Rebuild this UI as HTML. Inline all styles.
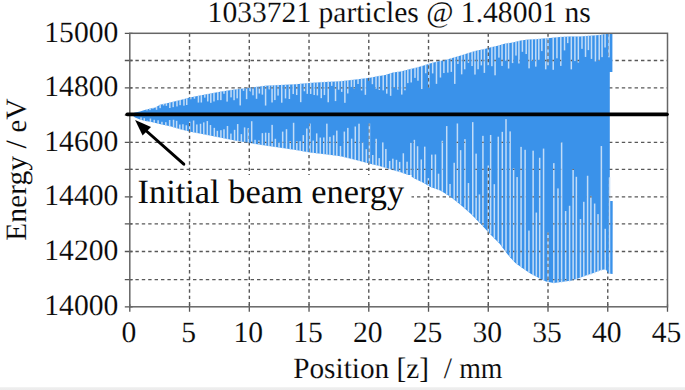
<!DOCTYPE html>
<html><head><meta charset="utf-8"><style>
html,body{margin:0;padding:0;background:#fff;}
body{width:685px;height:390px;overflow:hidden;position:relative;}
svg{position:absolute;left:0;top:0;display:block;}
text{font-family:"Liberation Serif",serif;fill:#0a0a0a;text-rendering:geometricPrecision;stroke:#fff;stroke-width:0.1px;}
</style></head><body>
<svg width="685" height="390" viewBox="0 0 685 390">
<defs><linearGradient id="bg" x1="0" y1="0" x2="0" y2="1"><stop offset="0" stop-color="#f6f6f6"/><stop offset="0.35" stop-color="#eeeeee"/><stop offset="1" stop-color="#ececec"/></linearGradient></defs>
<rect x="0" y="387" width="685" height="3" fill="url(#bg)"/>
<g stroke="#585858" stroke-width="1.4" stroke-dasharray="3.4 3.0" fill="none"><line x1="189.54" y1="33.30" x2="189.54" y2="306.80"/>
<line x1="249.29" y1="33.30" x2="249.29" y2="306.80"/>
<line x1="309.03" y1="33.30" x2="309.03" y2="306.80"/>
<line x1="368.78" y1="33.30" x2="368.78" y2="306.80"/>
<line x1="428.52" y1="33.30" x2="428.52" y2="306.80"/>
<line x1="488.27" y1="33.30" x2="488.27" y2="306.80"/>
<line x1="548.01" y1="33.30" x2="548.01" y2="306.80"/>
<line x1="607.76" y1="33.30" x2="607.76" y2="306.80"/>
<line x1="129.80" y1="279.60" x2="667.50" y2="279.60" stroke-dashoffset="0.8"/>
<line x1="129.80" y1="251.50" x2="667.50" y2="251.50" stroke-dashoffset="0.8"/>
<line x1="129.80" y1="223.90" x2="667.50" y2="223.90" stroke-dashoffset="0.8"/>
<line x1="129.80" y1="196.90" x2="667.50" y2="196.90" stroke-dashoffset="0.8"/>
<line x1="129.80" y1="169.40" x2="667.50" y2="169.40" stroke-dashoffset="0.8"/>
<line x1="129.80" y1="142.40" x2="667.50" y2="142.40" stroke-dashoffset="0.8"/>
<line x1="129.80" y1="115.20" x2="667.50" y2="115.20" stroke-dashoffset="0.8"/>
<line x1="129.80" y1="87.90" x2="667.50" y2="87.90" stroke-dashoffset="0.8"/>
<line x1="129.80" y1="60.50" x2="667.50" y2="60.50" stroke-dashoffset="0.8"/></g>
<polygon points="132.5,113.4 135.0,112.4 140.0,111.4 145.4,109.8 150.5,108.6 155.6,107.4 160.0,104.8 170.3,102.4 180.5,100.1 190.0,97.6 200.0,95.6 220.0,91.8 235.0,89.5 250.0,87.7 265.4,85.8 280.8,85.1 296.0,84.3 309.0,83.1 325.4,81.9 340.8,81.2 356.0,79.6 370.0,77.7 377.7,76.2 385.4,75.1 393.0,72.6 400.8,71.5 408.5,69.5 416.0,67.7 423.8,65.4 430.0,63.5 437.7,61.5 445.4,60.0 453.0,57.7 460.8,55.4 468.5,53.1 476.0,50.8 483.8,49.2 490.0,47.5 497.7,45.7 505.4,43.4 513.0,42.6 520.8,40.6 528.5,39.5 536.0,39.2 543.8,38.5 550.0,38.0 560.0,37.0 570.0,36.6 580.0,36.4 590.0,35.8 600.0,35.0 607.5,33.6 612.4,33.4 612.4,72.0 609.8,72.0 609.8,201.0 612.7,201.0 612.6,274.0 608.5,273.5 605.8,269.2 601.0,270.0 593.5,273.0 585.8,275.4 578.0,278.5 570.4,280.8 562.7,281.8 553.8,283.0 546.0,281.5 538.5,277.7 530.8,273.8 523.0,268.5 515.4,263.0 507.7,254.6 499.7,243.8 489.5,233.6 481.3,224.4 471.0,214.1 460.8,204.9 450.5,196.7 440.3,190.5 430.0,186.8 423.8,183.1 416.0,179.2 408.5,175.1 400.8,172.3 393.0,170.0 385.4,167.7 377.7,165.4 370.0,163.8 356.0,160.0 340.8,156.2 325.4,154.3 310.0,152.4 296.0,150.0 280.8,147.7 265.4,145.4 250.0,143.1 235.0,140.5 220.0,137.5 205.0,134.5 189.2,131.4 180.5,129.2 170.3,126.3 160.8,124.3 155.6,122.9 150.5,121.8 145.4,121.1 140.0,119.5 135.0,117.5 132.5,115.6" fill="#3a92ea"/>
<g fill="#c2dcf7"><rect x="146.22" y="109.11" width="1.50" height="1.32"/><rect x="149.25" y="108.40" width="1.50" height="1.71"/><rect x="152.16" y="107.71" width="1.50" height="0.99"/><rect x="155.79" y="106.79" width="1.50" height="3.02"/><rect x="159.38" y="104.67" width="1.50" height="3.49"/><rect x="162.81" y="103.65" width="1.50" height="1.82"/><rect x="165.65" y="102.98" width="1.50" height="2.86"/><rect x="169.07" y="102.19" width="1.50" height="5.84"/><rect x="172.42" y="101.42" width="1.50" height="5.73"/><rect x="176.23" y="100.56" width="1.50" height="5.90"/><rect x="179.37" y="99.85" width="1.50" height="5.34"/><rect x="183.19" y="98.89" width="1.50" height="6.77"/><rect x="185.99" y="98.16" width="1.50" height="6.85"/><rect x="189.97" y="97.11" width="1.50" height="2.14"/><rect x="193.70" y="96.36" width="1.50" height="2.31"/><rect x="197.66" y="95.57" width="1.50" height="6.99"/><rect x="200.58" y="94.99" width="1.50" height="7.51"/><rect x="204.05" y="94.33" width="1.50" height="3.31"/><rect x="207.01" y="93.77" width="1.50" height="7.69"/><rect x="210.06" y="93.19" width="1.50" height="9.63"/><rect x="213.23" y="92.59" width="1.50" height="8.89"/><rect x="217.05" y="91.86" width="1.50" height="8.32"/><rect x="220.11" y="91.28" width="1.50" height="8.84"/><rect x="223.26" y="90.80" width="1.50" height="2.99"/><rect x="226.35" y="90.33" width="1.50" height="11.26"/><rect x="230.31" y="89.72" width="1.50" height="7.63"/><rect x="233.32" y="89.26" width="1.50" height="10.95"/><rect x="236.42" y="88.83" width="1.50" height="9.51"/><rect x="239.46" y="88.46" width="1.50" height="16.97"/><rect x="242.77" y="88.07" width="1.50" height="2.79"/><rect x="245.85" y="87.70" width="1.50" height="11.46"/><rect x="249.37" y="87.28" width="1.50" height="4.28"/><rect x="252.25" y="86.92" width="1.50" height="8.37"/><rect x="255.79" y="86.49" width="1.50" height="12.32"/><rect x="258.61" y="86.14" width="1.50" height="7.38"/><rect x="261.62" y="85.77" width="1.50" height="8.87"/><rect x="264.85" y="85.37" width="1.50" height="20.19"/><rect x="268.48" y="85.16" width="1.50" height="4.22"/><rect x="271.30" y="85.03" width="1.50" height="17.44"/><rect x="274.13" y="84.90" width="1.50" height="15.16"/><rect x="277.31" y="84.76" width="1.50" height="10.82"/><rect x="281.00" y="84.59" width="1.50" height="18.11"/><rect x="284.75" y="84.39" width="1.50" height="14.00"/><rect x="288.63" y="84.19" width="1.50" height="14.82"/><rect x="292.47" y="83.99" width="1.50" height="10.06"/><rect x="295.97" y="83.80" width="1.50" height="11.24"/><rect x="299.96" y="83.43" width="1.50" height="18.75"/><rect x="303.64" y="83.09" width="1.50" height="8.13"/><rect x="306.54" y="82.83" width="1.50" height="11.02"/><rect x="309.92" y="82.53" width="1.50" height="11.46"/><rect x="313.45" y="82.27" width="1.50" height="12.75"/><rect x="316.62" y="82.04" width="1.50" height="13.37"/><rect x="320.50" y="81.76" width="1.50" height="16.38"/><rect x="323.69" y="81.52" width="1.50" height="13.54"/><rect x="327.46" y="81.31" width="1.50" height="20.96"/><rect x="330.96" y="81.15" width="1.50" height="4.72"/><rect x="334.77" y="80.97" width="1.50" height="20.12"/><rect x="337.90" y="80.83" width="1.50" height="8.87"/><rect x="340.96" y="80.68" width="1.50" height="11.20"/><rect x="344.13" y="80.35" width="1.50" height="22.45"/><rect x="347.02" y="80.04" width="1.50" height="13.41"/><rect x="350.67" y="79.66" width="1.50" height="7.26"/><rect x="353.50" y="79.36" width="1.50" height="9.32"/><rect x="357.29" y="78.92" width="1.50" height="5.09"/><rect x="360.85" y="78.44" width="1.50" height="12.03"/><rect x="364.62" y="77.93" width="1.50" height="16.89"/><rect x="367.99" y="77.47" width="1.50" height="3.41"/><rect x="371.64" y="76.88" width="1.50" height="7.31"/><rect x="375.28" y="76.17" width="1.50" height="12.58"/><rect x="378.55" y="75.58" width="1.50" height="14.42"/><rect x="382.47" y="75.02" width="1.50" height="15.33"/><rect x="386.02" y="74.40" width="1.50" height="19.28"/><rect x="389.88" y="73.13" width="1.50" height="22.70"/><rect x="393.46" y="72.04" width="1.50" height="15.78"/><rect x="397.03" y="71.53" width="1.50" height="18.07"/><rect x="401.01" y="70.95" width="1.50" height="23.63"/><rect x="404.19" y="70.12" width="1.50" height="20.17"/><rect x="407.09" y="69.37" width="1.50" height="13.73"/><rect x="410.47" y="68.53" width="1.50" height="13.91"/><rect x="414.23" y="67.62" width="1.50" height="10.27"/><rect x="417.20" y="66.85" width="1.50" height="13.88"/><rect x="421.01" y="65.72" width="1.50" height="23.34"/><rect x="424.95" y="64.55" width="1.50" height="8.69"/><rect x="428.10" y="63.58" width="1.50" height="24.00"/><rect x="431.91" y="62.50" width="1.50" height="10.92"/><rect x="435.72" y="61.51" width="1.50" height="22.33"/><rect x="439.69" y="60.61" width="1.50" height="16.92"/><rect x="443.13" y="59.94" width="1.50" height="13.11"/><rect x="447.09" y="58.99" width="1.50" height="13.64"/><rect x="450.57" y="57.94" width="1.50" height="13.95"/><rect x="454.01" y="56.90" width="1.50" height="27.00"/><rect x="457.14" y="55.98" width="1.50" height="7.96"/><rect x="460.92" y="54.87" width="1.50" height="19.48"/><rect x="463.95" y="53.96" width="1.50" height="15.35"/><rect x="467.68" y="52.84" width="1.50" height="10.04"/><rect x="471.31" y="51.74" width="1.50" height="14.29"/><rect x="474.23" y="50.84" width="1.50" height="23.73"/><rect x="477.33" y="50.03" width="1.50" height="19.23"/><rect x="480.58" y="49.36" width="1.50" height="16.01"/><rect x="483.63" y="48.74" width="1.50" height="24.15"/><rect x="487.45" y="47.70" width="1.50" height="17.62"/><rect x="491.14" y="46.73" width="1.50" height="19.45"/><rect x="494.32" y="45.99" width="1.50" height="29.32"/><rect x="498.18" y="45.06" width="1.50" height="12.57"/><rect x="501.29" y="44.13" width="1.50" height="21.78"/><rect x="505.04" y="43.01" width="1.50" height="17.67"/><rect x="507.86" y="42.64" width="1.50" height="25.89"/><rect x="511.82" y="42.22" width="1.50" height="20.87"/><rect x="515.23" y="41.53" width="1.50" height="14.05"/><rect x="518.16" y="40.78" width="1.50" height="22.67"/><rect x="521.64" y="39.98" width="1.50" height="11.83"/><rect x="525.45" y="39.44" width="1.50" height="14.60"/><rect x="528.32" y="39.03" width="1.50" height="29.32"/><rect x="531.51" y="38.88" width="1.50" height="21.96"/><rect x="535.03" y="38.74" width="1.50" height="27.89"/><rect x="538.05" y="38.52" width="1.50" height="21.42"/><rect x="541.09" y="38.24" width="1.50" height="12.84"/><rect x="544.96" y="37.91" width="1.50" height="31.44"/><rect x="552.49" y="37.25" width="1.50" height="32.55"/><rect x="556.19" y="36.88" width="1.50" height="21.42"/><rect x="560.06" y="36.50" width="1.50" height="29.38"/><rect x="563.78" y="36.35" width="1.50" height="14.05"/><rect x="566.99" y="36.22" width="1.50" height="6.89"/><rect x="570.56" y="36.09" width="1.50" height="33.28"/><rect x="574.16" y="36.02" width="1.50" height="25.03"/><rect x="577.59" y="35.95" width="1.50" height="26.63"/><rect x="581.24" y="35.83" width="1.50" height="13.00"/><rect x="584.77" y="35.61" width="1.50" height="21.33"/><rect x="587.64" y="35.44" width="1.50" height="14.67"/><rect x="590.74" y="35.24" width="1.50" height="23.67"/><rect x="594.70" y="34.92" width="1.50" height="26.54"/><rect x="598.47" y="34.62" width="1.50" height="26.08"/><rect x="601.32" y="34.25" width="1.50" height="22.88"/><rect x="604.33" y="33.69" width="1.50" height="13.79"/><rect x="608.26" y="33.07" width="1.50" height="24.25"/><rect x="140.26" y="117.37" width="1.50" height="2.70"/><rect x="143.51" y="118.23" width="1.50" height="2.81"/><rect x="146.52" y="120.65" width="1.50" height="1.10"/><rect x="149.67" y="118.53" width="1.50" height="3.66"/><rect x="153.47" y="119.80" width="1.50" height="3.14"/><rect x="157.36" y="120.27" width="1.50" height="3.61"/><rect x="161.18" y="121.80" width="1.50" height="3.08"/><rect x="165.05" y="122.18" width="1.50" height="3.52"/><rect x="168.90" y="120.02" width="1.50" height="6.49"/><rect x="172.78" y="119.75" width="1.50" height="7.76"/><rect x="175.88" y="120.82" width="1.50" height="7.57"/><rect x="179.07" y="124.54" width="1.50" height="4.75"/><rect x="182.18" y="124.25" width="1.50" height="5.88"/><rect x="185.59" y="125.31" width="1.50" height="5.67"/><rect x="188.97" y="121.67" width="1.50" height="10.17"/><rect x="192.86" y="120.49" width="1.50" height="12.13"/><rect x="196.08" y="124.45" width="1.50" height="8.80"/><rect x="199.78" y="123.77" width="1.50" height="10.20"/><rect x="203.03" y="122.39" width="1.50" height="12.22"/><rect x="206.56" y="121.06" width="1.50" height="14.25"/><rect x="209.73" y="125.04" width="1.50" height="10.91"/><rect x="213.56" y="127.85" width="1.50" height="8.86"/><rect x="216.61" y="130.81" width="1.50" height="6.51"/><rect x="220.17" y="130.20" width="1.50" height="7.83"/><rect x="223.24" y="129.27" width="1.50" height="9.37"/><rect x="226.73" y="125.98" width="1.50" height="13.36"/><rect x="230.16" y="133.59" width="1.50" height="6.44"/><rect x="233.83" y="129.83" width="1.50" height="10.93"/><rect x="236.94" y="124.07" width="1.50" height="17.27"/><rect x="240.63" y="134.12" width="1.50" height="7.85"/><rect x="243.86" y="127.41" width="1.50" height="15.12"/><rect x="247.45" y="128.20" width="1.50" height="14.96"/><rect x="250.95" y="121.22" width="1.50" height="22.52"/><rect x="254.33" y="139.79" width="1.50" height="4.46"/><rect x="258.12" y="140.45" width="1.50" height="4.36"/><rect x="261.63" y="133.14" width="1.50" height="12.20"/><rect x="264.90" y="132.68" width="1.50" height="13.15"/><rect x="268.09" y="132.87" width="1.50" height="13.43"/><rect x="271.36" y="124.86" width="1.50" height="21.93"/><rect x="274.62" y="138.80" width="1.50" height="8.48"/><rect x="278.27" y="142.57" width="1.50" height="5.26"/><rect x="281.91" y="131.61" width="1.50" height="16.76"/><rect x="285.75" y="129.19" width="1.50" height="19.76"/><rect x="289.48" y="141.04" width="1.50" height="8.47"/><rect x="292.84" y="122.78" width="1.50" height="27.24"/><rect x="296.06" y="141.07" width="1.50" height="9.44"/><rect x="299.39" y="141.15" width="1.50" height="9.93"/><rect x="302.56" y="135.11" width="1.50" height="16.52"/><rect x="306.05" y="128.52" width="1.50" height="23.71"/><rect x="309.21" y="123.54" width="1.50" height="29.22"/><rect x="312.46" y="140.58" width="1.50" height="12.62"/><rect x="315.95" y="133.38" width="1.50" height="20.26"/><rect x="319.54" y="137.55" width="1.50" height="16.53"/><rect x="323.03" y="137.45" width="1.50" height="17.05"/><rect x="326.10" y="123.66" width="1.50" height="31.22"/><rect x="329.18" y="136.84" width="1.50" height="18.42"/><rect x="332.85" y="135.30" width="1.50" height="20.42"/><rect x="336.05" y="130.60" width="1.50" height="25.52"/><rect x="339.74" y="146.02" width="1.50" height="10.55"/><rect x="343.61" y="131.58" width="1.50" height="25.82"/><rect x="347.09" y="127.90" width="1.50" height="30.38"/><rect x="350.92" y="138.66" width="1.50" height="20.57"/><rect x="354.52" y="126.51" width="1.50" height="33.62"/><rect x="358.27" y="123.71" width="1.50" height="37.41"/><rect x="361.84" y="142.54" width="1.50" height="19.54"/><rect x="365.56" y="149.18" width="1.50" height="13.92"/><rect x="368.70" y="123.48" width="1.50" height="40.47"/><rect x="372.03" y="155.00" width="1.50" height="9.72"/><rect x="375.42" y="138.79" width="1.50" height="26.64"/><rect x="378.47" y="158.13" width="1.50" height="8.00"/><rect x="382.05" y="142.42" width="1.50" height="24.78"/><rect x="385.11" y="148.96" width="1.50" height="19.15"/><rect x="388.93" y="160.94" width="1.50" height="8.33"/><rect x="392.09" y="158.70" width="1.50" height="11.52"/><rect x="395.74" y="159.84" width="1.50" height="11.46"/><rect x="398.90" y="161.88" width="1.50" height="10.37"/><rect x="402.59" y="153.27" width="1.50" height="20.18"/><rect x="406.32" y="161.69" width="1.50" height="13.12"/><rect x="410.12" y="142.87" width="1.50" height="33.62"/><rect x="413.61" y="139.82" width="1.50" height="38.58"/><rect x="416.81" y="146.23" width="1.50" height="33.88"/><rect x="420.53" y="159.44" width="1.50" height="22.52"/><rect x="424.00" y="146.65" width="1.50" height="37.07"/><rect x="427.59" y="178.11" width="1.50" height="7.75"/><rect x="431.01" y="154.62" width="1.50" height="33.04"/><rect x="434.66" y="154.45" width="1.50" height="34.52"/><rect x="437.80" y="173.69" width="1.50" height="16.41"/><rect x="441.58" y="140.76" width="1.50" height="51.02"/><rect x="445.97" y="126.08" width="1.50" height="68.37"/><rect x="449.27" y="183.95" width="1.50" height="12.50"/><rect x="453.44" y="162.78" width="1.50" height="36.76"/><rect x="456.64" y="123.48" width="1.50" height="78.61"/><rect x="459.87" y="150.15" width="1.50" height="54.51"/><rect x="464.21" y="139.14" width="1.50" height="69.34"/><rect x="467.71" y="183.04" width="1.50" height="28.59"/><rect x="472.00" y="122.13" width="1.50" height="93.47"/><rect x="475.37" y="153.63" width="1.50" height="65.34"/><rect x="478.67" y="194.43" width="1.50" height="27.84"/><rect x="482.18" y="135.82" width="1.50" height="90.06"/><rect x="489.88" y="134.96" width="1.50" height="99.51"/><rect x="493.58" y="184.18" width="1.50" height="54.00"/><rect x="497.53" y="136.68" width="1.50" height="105.45"/><rect x="501.55" y="131.84" width="1.50" height="114.95"/><rect x="505.25" y="119.16" width="1.50" height="132.63"/><rect x="509.39" y="131.39" width="1.50" height="125.55"/><rect x="512.86" y="168.21" width="1.50" height="92.53"/><rect x="516.35" y="177.07" width="1.50" height="87.12"/><rect x="520.32" y="146.88" width="1.50" height="120.18"/><rect x="524.37" y="149.79" width="1.50" height="120.14"/><rect x="528.20" y="230.57" width="1.50" height="41.96"/><rect x="532.38" y="150.67" width="1.50" height="124.43"/><rect x="535.60" y="212.55" width="1.50" height="64.18"/><rect x="538.93" y="157.77" width="1.50" height="120.64"/><rect x="542.80" y="148.59" width="1.50" height="131.79"/><rect x="553.07" y="163.13" width="1.50" height="120.23"/><rect x="557.23" y="188.39" width="1.50" height="94.65"/><rect x="560.87" y="142.38" width="1.50" height="140.17"/><rect x="564.88" y="211.03" width="1.50" height="70.99"/><rect x="568.84" y="205.77" width="1.50" height="75.73"/><rect x="572.37" y="169.05" width="1.50" height="111.65"/><rect x="575.61" y="176.80" width="1.50" height="102.92"/><rect x="579.73" y="218.98" width="1.50" height="59.33"/><rect x="583.04" y="201.79" width="1.50" height="75.21"/><rect x="586.85" y="175.75" width="1.50" height="99.82"/><rect x="590.13" y="195.86" width="1.50" height="78.69"/><rect x="593.90" y="203.54" width="1.50" height="69.80"/><rect x="597.26" y="214.12" width="1.50" height="57.88"/><rect x="600.62" y="146.03" width="1.50" height="124.63"/><rect x="604.47" y="228.79" width="1.50" height="41.14"/><rect x="608.78" y="177.24" width="1.50" height="96.80"/><rect x="487.52" y="165.50" width="1.50" height="67.22"/><rect x="547.26" y="232.50" width="1.50" height="49.89"/><rect x="547.26" y="37.66" width="1.50" height="27.84"/></g>
<clipPath id="sc"><rect x="146.22" y="109.11" width="1.50" height="1.32"/><rect x="149.25" y="108.40" width="1.50" height="1.71"/><rect x="152.16" y="107.71" width="1.50" height="0.99"/><rect x="155.79" y="106.79" width="1.50" height="3.02"/><rect x="159.38" y="104.67" width="1.50" height="3.49"/><rect x="162.81" y="103.65" width="1.50" height="1.82"/><rect x="165.65" y="102.98" width="1.50" height="2.86"/><rect x="169.07" y="102.19" width="1.50" height="5.84"/><rect x="172.42" y="101.42" width="1.50" height="5.73"/><rect x="176.23" y="100.56" width="1.50" height="5.90"/><rect x="179.37" y="99.85" width="1.50" height="5.34"/><rect x="183.19" y="98.89" width="1.50" height="6.77"/><rect x="185.99" y="98.16" width="1.50" height="6.85"/><rect x="189.97" y="97.11" width="1.50" height="2.14"/><rect x="193.70" y="96.36" width="1.50" height="2.31"/><rect x="197.66" y="95.57" width="1.50" height="6.99"/><rect x="200.58" y="94.99" width="1.50" height="7.51"/><rect x="204.05" y="94.33" width="1.50" height="3.31"/><rect x="207.01" y="93.77" width="1.50" height="7.69"/><rect x="210.06" y="93.19" width="1.50" height="9.63"/><rect x="213.23" y="92.59" width="1.50" height="8.89"/><rect x="217.05" y="91.86" width="1.50" height="8.32"/><rect x="220.11" y="91.28" width="1.50" height="8.84"/><rect x="223.26" y="90.80" width="1.50" height="2.99"/><rect x="226.35" y="90.33" width="1.50" height="11.26"/><rect x="230.31" y="89.72" width="1.50" height="7.63"/><rect x="233.32" y="89.26" width="1.50" height="10.95"/><rect x="236.42" y="88.83" width="1.50" height="9.51"/><rect x="239.46" y="88.46" width="1.50" height="16.97"/><rect x="242.77" y="88.07" width="1.50" height="2.79"/><rect x="245.85" y="87.70" width="1.50" height="11.46"/><rect x="249.37" y="87.28" width="1.50" height="4.28"/><rect x="252.25" y="86.92" width="1.50" height="8.37"/><rect x="255.79" y="86.49" width="1.50" height="12.32"/><rect x="258.61" y="86.14" width="1.50" height="7.38"/><rect x="261.62" y="85.77" width="1.50" height="8.87"/><rect x="264.85" y="85.37" width="1.50" height="20.19"/><rect x="268.48" y="85.16" width="1.50" height="4.22"/><rect x="271.30" y="85.03" width="1.50" height="17.44"/><rect x="274.13" y="84.90" width="1.50" height="15.16"/><rect x="277.31" y="84.76" width="1.50" height="10.82"/><rect x="281.00" y="84.59" width="1.50" height="18.11"/><rect x="284.75" y="84.39" width="1.50" height="14.00"/><rect x="288.63" y="84.19" width="1.50" height="14.82"/><rect x="292.47" y="83.99" width="1.50" height="10.06"/><rect x="295.97" y="83.80" width="1.50" height="11.24"/><rect x="299.96" y="83.43" width="1.50" height="18.75"/><rect x="303.64" y="83.09" width="1.50" height="8.13"/><rect x="306.54" y="82.83" width="1.50" height="11.02"/><rect x="309.92" y="82.53" width="1.50" height="11.46"/><rect x="313.45" y="82.27" width="1.50" height="12.75"/><rect x="316.62" y="82.04" width="1.50" height="13.37"/><rect x="320.50" y="81.76" width="1.50" height="16.38"/><rect x="323.69" y="81.52" width="1.50" height="13.54"/><rect x="327.46" y="81.31" width="1.50" height="20.96"/><rect x="330.96" y="81.15" width="1.50" height="4.72"/><rect x="334.77" y="80.97" width="1.50" height="20.12"/><rect x="337.90" y="80.83" width="1.50" height="8.87"/><rect x="340.96" y="80.68" width="1.50" height="11.20"/><rect x="344.13" y="80.35" width="1.50" height="22.45"/><rect x="347.02" y="80.04" width="1.50" height="13.41"/><rect x="350.67" y="79.66" width="1.50" height="7.26"/><rect x="353.50" y="79.36" width="1.50" height="9.32"/><rect x="357.29" y="78.92" width="1.50" height="5.09"/><rect x="360.85" y="78.44" width="1.50" height="12.03"/><rect x="364.62" y="77.93" width="1.50" height="16.89"/><rect x="367.99" y="77.47" width="1.50" height="3.41"/><rect x="371.64" y="76.88" width="1.50" height="7.31"/><rect x="375.28" y="76.17" width="1.50" height="12.58"/><rect x="378.55" y="75.58" width="1.50" height="14.42"/><rect x="382.47" y="75.02" width="1.50" height="15.33"/><rect x="386.02" y="74.40" width="1.50" height="19.28"/><rect x="389.88" y="73.13" width="1.50" height="22.70"/><rect x="393.46" y="72.04" width="1.50" height="15.78"/><rect x="397.03" y="71.53" width="1.50" height="18.07"/><rect x="401.01" y="70.95" width="1.50" height="23.63"/><rect x="404.19" y="70.12" width="1.50" height="20.17"/><rect x="407.09" y="69.37" width="1.50" height="13.73"/><rect x="410.47" y="68.53" width="1.50" height="13.91"/><rect x="414.23" y="67.62" width="1.50" height="10.27"/><rect x="417.20" y="66.85" width="1.50" height="13.88"/><rect x="421.01" y="65.72" width="1.50" height="23.34"/><rect x="424.95" y="64.55" width="1.50" height="8.69"/><rect x="428.10" y="63.58" width="1.50" height="24.00"/><rect x="431.91" y="62.50" width="1.50" height="10.92"/><rect x="435.72" y="61.51" width="1.50" height="22.33"/><rect x="439.69" y="60.61" width="1.50" height="16.92"/><rect x="443.13" y="59.94" width="1.50" height="13.11"/><rect x="447.09" y="58.99" width="1.50" height="13.64"/><rect x="450.57" y="57.94" width="1.50" height="13.95"/><rect x="454.01" y="56.90" width="1.50" height="27.00"/><rect x="457.14" y="55.98" width="1.50" height="7.96"/><rect x="460.92" y="54.87" width="1.50" height="19.48"/><rect x="463.95" y="53.96" width="1.50" height="15.35"/><rect x="467.68" y="52.84" width="1.50" height="10.04"/><rect x="471.31" y="51.74" width="1.50" height="14.29"/><rect x="474.23" y="50.84" width="1.50" height="23.73"/><rect x="477.33" y="50.03" width="1.50" height="19.23"/><rect x="480.58" y="49.36" width="1.50" height="16.01"/><rect x="483.63" y="48.74" width="1.50" height="24.15"/><rect x="487.45" y="47.70" width="1.50" height="17.62"/><rect x="491.14" y="46.73" width="1.50" height="19.45"/><rect x="494.32" y="45.99" width="1.50" height="29.32"/><rect x="498.18" y="45.06" width="1.50" height="12.57"/><rect x="501.29" y="44.13" width="1.50" height="21.78"/><rect x="505.04" y="43.01" width="1.50" height="17.67"/><rect x="507.86" y="42.64" width="1.50" height="25.89"/><rect x="511.82" y="42.22" width="1.50" height="20.87"/><rect x="515.23" y="41.53" width="1.50" height="14.05"/><rect x="518.16" y="40.78" width="1.50" height="22.67"/><rect x="521.64" y="39.98" width="1.50" height="11.83"/><rect x="525.45" y="39.44" width="1.50" height="14.60"/><rect x="528.32" y="39.03" width="1.50" height="29.32"/><rect x="531.51" y="38.88" width="1.50" height="21.96"/><rect x="535.03" y="38.74" width="1.50" height="27.89"/><rect x="538.05" y="38.52" width="1.50" height="21.42"/><rect x="541.09" y="38.24" width="1.50" height="12.84"/><rect x="544.96" y="37.91" width="1.50" height="31.44"/><rect x="552.49" y="37.25" width="1.50" height="32.55"/><rect x="556.19" y="36.88" width="1.50" height="21.42"/><rect x="560.06" y="36.50" width="1.50" height="29.38"/><rect x="563.78" y="36.35" width="1.50" height="14.05"/><rect x="566.99" y="36.22" width="1.50" height="6.89"/><rect x="570.56" y="36.09" width="1.50" height="33.28"/><rect x="574.16" y="36.02" width="1.50" height="25.03"/><rect x="577.59" y="35.95" width="1.50" height="26.63"/><rect x="581.24" y="35.83" width="1.50" height="13.00"/><rect x="584.77" y="35.61" width="1.50" height="21.33"/><rect x="587.64" y="35.44" width="1.50" height="14.67"/><rect x="590.74" y="35.24" width="1.50" height="23.67"/><rect x="594.70" y="34.92" width="1.50" height="26.54"/><rect x="598.47" y="34.62" width="1.50" height="26.08"/><rect x="601.32" y="34.25" width="1.50" height="22.88"/><rect x="604.33" y="33.69" width="1.50" height="13.79"/><rect x="608.26" y="33.07" width="1.50" height="24.25"/><rect x="140.26" y="117.37" width="1.50" height="2.70"/><rect x="143.51" y="118.23" width="1.50" height="2.81"/><rect x="146.52" y="120.65" width="1.50" height="1.10"/><rect x="149.67" y="118.53" width="1.50" height="3.66"/><rect x="153.47" y="119.80" width="1.50" height="3.14"/><rect x="157.36" y="120.27" width="1.50" height="3.61"/><rect x="161.18" y="121.80" width="1.50" height="3.08"/><rect x="165.05" y="122.18" width="1.50" height="3.52"/><rect x="168.90" y="120.02" width="1.50" height="6.49"/><rect x="172.78" y="119.75" width="1.50" height="7.76"/><rect x="175.88" y="120.82" width="1.50" height="7.57"/><rect x="179.07" y="124.54" width="1.50" height="4.75"/><rect x="182.18" y="124.25" width="1.50" height="5.88"/><rect x="185.59" y="125.31" width="1.50" height="5.67"/><rect x="188.97" y="121.67" width="1.50" height="10.17"/><rect x="192.86" y="120.49" width="1.50" height="12.13"/><rect x="196.08" y="124.45" width="1.50" height="8.80"/><rect x="199.78" y="123.77" width="1.50" height="10.20"/><rect x="203.03" y="122.39" width="1.50" height="12.22"/><rect x="206.56" y="121.06" width="1.50" height="14.25"/><rect x="209.73" y="125.04" width="1.50" height="10.91"/><rect x="213.56" y="127.85" width="1.50" height="8.86"/><rect x="216.61" y="130.81" width="1.50" height="6.51"/><rect x="220.17" y="130.20" width="1.50" height="7.83"/><rect x="223.24" y="129.27" width="1.50" height="9.37"/><rect x="226.73" y="125.98" width="1.50" height="13.36"/><rect x="230.16" y="133.59" width="1.50" height="6.44"/><rect x="233.83" y="129.83" width="1.50" height="10.93"/><rect x="236.94" y="124.07" width="1.50" height="17.27"/><rect x="240.63" y="134.12" width="1.50" height="7.85"/><rect x="243.86" y="127.41" width="1.50" height="15.12"/><rect x="247.45" y="128.20" width="1.50" height="14.96"/><rect x="250.95" y="121.22" width="1.50" height="22.52"/><rect x="254.33" y="139.79" width="1.50" height="4.46"/><rect x="258.12" y="140.45" width="1.50" height="4.36"/><rect x="261.63" y="133.14" width="1.50" height="12.20"/><rect x="264.90" y="132.68" width="1.50" height="13.15"/><rect x="268.09" y="132.87" width="1.50" height="13.43"/><rect x="271.36" y="124.86" width="1.50" height="21.93"/><rect x="274.62" y="138.80" width="1.50" height="8.48"/><rect x="278.27" y="142.57" width="1.50" height="5.26"/><rect x="281.91" y="131.61" width="1.50" height="16.76"/><rect x="285.75" y="129.19" width="1.50" height="19.76"/><rect x="289.48" y="141.04" width="1.50" height="8.47"/><rect x="292.84" y="122.78" width="1.50" height="27.24"/><rect x="296.06" y="141.07" width="1.50" height="9.44"/><rect x="299.39" y="141.15" width="1.50" height="9.93"/><rect x="302.56" y="135.11" width="1.50" height="16.52"/><rect x="306.05" y="128.52" width="1.50" height="23.71"/><rect x="309.21" y="123.54" width="1.50" height="29.22"/><rect x="312.46" y="140.58" width="1.50" height="12.62"/><rect x="315.95" y="133.38" width="1.50" height="20.26"/><rect x="319.54" y="137.55" width="1.50" height="16.53"/><rect x="323.03" y="137.45" width="1.50" height="17.05"/><rect x="326.10" y="123.66" width="1.50" height="31.22"/><rect x="329.18" y="136.84" width="1.50" height="18.42"/><rect x="332.85" y="135.30" width="1.50" height="20.42"/><rect x="336.05" y="130.60" width="1.50" height="25.52"/><rect x="339.74" y="146.02" width="1.50" height="10.55"/><rect x="343.61" y="131.58" width="1.50" height="25.82"/><rect x="347.09" y="127.90" width="1.50" height="30.38"/><rect x="350.92" y="138.66" width="1.50" height="20.57"/><rect x="354.52" y="126.51" width="1.50" height="33.62"/><rect x="358.27" y="123.71" width="1.50" height="37.41"/><rect x="361.84" y="142.54" width="1.50" height="19.54"/><rect x="365.56" y="149.18" width="1.50" height="13.92"/><rect x="368.70" y="123.48" width="1.50" height="40.47"/><rect x="372.03" y="155.00" width="1.50" height="9.72"/><rect x="375.42" y="138.79" width="1.50" height="26.64"/><rect x="378.47" y="158.13" width="1.50" height="8.00"/><rect x="382.05" y="142.42" width="1.50" height="24.78"/><rect x="385.11" y="148.96" width="1.50" height="19.15"/><rect x="388.93" y="160.94" width="1.50" height="8.33"/><rect x="392.09" y="158.70" width="1.50" height="11.52"/><rect x="395.74" y="159.84" width="1.50" height="11.46"/><rect x="398.90" y="161.88" width="1.50" height="10.37"/><rect x="402.59" y="153.27" width="1.50" height="20.18"/><rect x="406.32" y="161.69" width="1.50" height="13.12"/><rect x="410.12" y="142.87" width="1.50" height="33.62"/><rect x="413.61" y="139.82" width="1.50" height="38.58"/><rect x="416.81" y="146.23" width="1.50" height="33.88"/><rect x="420.53" y="159.44" width="1.50" height="22.52"/><rect x="424.00" y="146.65" width="1.50" height="37.07"/><rect x="427.59" y="178.11" width="1.50" height="7.75"/><rect x="431.01" y="154.62" width="1.50" height="33.04"/><rect x="434.66" y="154.45" width="1.50" height="34.52"/><rect x="437.80" y="173.69" width="1.50" height="16.41"/><rect x="441.58" y="140.76" width="1.50" height="51.02"/><rect x="445.97" y="126.08" width="1.50" height="68.37"/><rect x="449.27" y="183.95" width="1.50" height="12.50"/><rect x="453.44" y="162.78" width="1.50" height="36.76"/><rect x="456.64" y="123.48" width="1.50" height="78.61"/><rect x="459.87" y="150.15" width="1.50" height="54.51"/><rect x="464.21" y="139.14" width="1.50" height="69.34"/><rect x="467.71" y="183.04" width="1.50" height="28.59"/><rect x="472.00" y="122.13" width="1.50" height="93.47"/><rect x="475.37" y="153.63" width="1.50" height="65.34"/><rect x="478.67" y="194.43" width="1.50" height="27.84"/><rect x="482.18" y="135.82" width="1.50" height="90.06"/><rect x="489.88" y="134.96" width="1.50" height="99.51"/><rect x="493.58" y="184.18" width="1.50" height="54.00"/><rect x="497.53" y="136.68" width="1.50" height="105.45"/><rect x="501.55" y="131.84" width="1.50" height="114.95"/><rect x="505.25" y="119.16" width="1.50" height="132.63"/><rect x="509.39" y="131.39" width="1.50" height="125.55"/><rect x="512.86" y="168.21" width="1.50" height="92.53"/><rect x="516.35" y="177.07" width="1.50" height="87.12"/><rect x="520.32" y="146.88" width="1.50" height="120.18"/><rect x="524.37" y="149.79" width="1.50" height="120.14"/><rect x="528.20" y="230.57" width="1.50" height="41.96"/><rect x="532.38" y="150.67" width="1.50" height="124.43"/><rect x="535.60" y="212.55" width="1.50" height="64.18"/><rect x="538.93" y="157.77" width="1.50" height="120.64"/><rect x="542.80" y="148.59" width="1.50" height="131.79"/><rect x="553.07" y="163.13" width="1.50" height="120.23"/><rect x="557.23" y="188.39" width="1.50" height="94.65"/><rect x="560.87" y="142.38" width="1.50" height="140.17"/><rect x="564.88" y="211.03" width="1.50" height="70.99"/><rect x="568.84" y="205.77" width="1.50" height="75.73"/><rect x="572.37" y="169.05" width="1.50" height="111.65"/><rect x="575.61" y="176.80" width="1.50" height="102.92"/><rect x="579.73" y="218.98" width="1.50" height="59.33"/><rect x="583.04" y="201.79" width="1.50" height="75.21"/><rect x="586.85" y="175.75" width="1.50" height="99.82"/><rect x="590.13" y="195.86" width="1.50" height="78.69"/><rect x="593.90" y="203.54" width="1.50" height="69.80"/><rect x="597.26" y="214.12" width="1.50" height="57.88"/><rect x="600.62" y="146.03" width="1.50" height="124.63"/><rect x="604.47" y="228.79" width="1.50" height="41.14"/><rect x="608.78" y="177.24" width="1.50" height="96.80"/><rect x="487.52" y="165.50" width="1.50" height="67.22"/><rect x="547.26" y="232.50" width="1.50" height="49.89"/><rect x="547.26" y="37.66" width="1.50" height="27.84"/></clipPath>
<g clip-path="url(#sc)" stroke="#585858" stroke-width="1.4" stroke-dasharray="3.4 3.0" fill="none"><line x1="189.54" y1="33.30" x2="189.54" y2="306.80"/>
<line x1="249.29" y1="33.30" x2="249.29" y2="306.80"/>
<line x1="309.03" y1="33.30" x2="309.03" y2="306.80"/>
<line x1="368.78" y1="33.30" x2="368.78" y2="306.80"/>
<line x1="428.52" y1="33.30" x2="428.52" y2="306.80"/>
<line x1="488.27" y1="33.30" x2="488.27" y2="306.80"/>
<line x1="548.01" y1="33.30" x2="548.01" y2="306.80"/>
<line x1="607.76" y1="33.30" x2="607.76" y2="306.80"/>
<line x1="129.80" y1="279.60" x2="667.50" y2="279.60" stroke-dashoffset="0.8"/>
<line x1="129.80" y1="251.50" x2="667.50" y2="251.50" stroke-dashoffset="0.8"/>
<line x1="129.80" y1="223.90" x2="667.50" y2="223.90" stroke-dashoffset="0.8"/>
<line x1="129.80" y1="196.90" x2="667.50" y2="196.90" stroke-dashoffset="0.8"/>
<line x1="129.80" y1="169.40" x2="667.50" y2="169.40" stroke-dashoffset="0.8"/>
<line x1="129.80" y1="142.40" x2="667.50" y2="142.40" stroke-dashoffset="0.8"/>
<line x1="129.80" y1="115.20" x2="667.50" y2="115.20" stroke-dashoffset="0.8"/>
<line x1="129.80" y1="87.90" x2="667.50" y2="87.90" stroke-dashoffset="0.8"/>
<line x1="129.80" y1="60.50" x2="667.50" y2="60.50" stroke-dashoffset="0.8"/></g>
<rect x="131.5" y="175" width="280" height="36" fill="#fff"/>
<path d="M129.80 304.20V311.80 M189.54 304.20V311.80 M249.29 304.20V311.80 M309.03 304.20V311.80 M368.78 304.20V311.80 M428.52 304.20V311.80 M488.27 304.20V311.80 M548.01 304.20V311.80 M607.76 304.20V311.80 M667.50 304.20V311.80 M132.60 306.80H124.80 M132.60 279.60H124.80 M132.60 251.50H124.80 M132.60 223.90H124.80 M132.60 196.90H124.80 M132.60 169.40H124.80 M132.60 142.40H124.80 M132.60 115.20H124.80 M132.60 87.90H124.80 M132.60 60.50H124.80 M132.60 33.30H124.80" stroke="#555" stroke-width="1.3" fill="none"/>
<rect x="129.80" y="33.30" width="537.70" height="273.50" stroke="#666" stroke-width="1.5" fill="none"/>
<line x1="127.3" y1="114.30" x2="666.9" y2="114.30" stroke="#000" stroke-width="3.8" stroke-linecap="round"/>
<line x1="183.8" y1="164.2" x2="143" y2="128" stroke="#000" stroke-width="3" stroke-linecap="round"/>
<polygon points="135.1,120.1 142.6,135.4 151,126.9" fill="#000"/>
<g font-size="29.6">
<text x="207.6" y="21.6">1033721 particles @ 1.48001 ns</text>
<text x="128.80" y="342.2" text-anchor="middle">0</text>
<text x="188.54" y="342.2" text-anchor="middle">5</text>
<text x="248.29" y="342.2" text-anchor="middle">10</text>
<text x="308.03" y="342.2" text-anchor="middle">15</text>
<text x="367.78" y="342.2" text-anchor="middle">20</text>
<text x="427.52" y="342.2" text-anchor="middle">25</text>
<text x="487.27" y="342.2" text-anchor="middle">30</text>
<text x="547.01" y="342.2" text-anchor="middle">35</text>
<text x="606.76" y="342.2" text-anchor="middle">40</text>
<text x="666.50" y="342.2" text-anchor="middle">45</text>
<text x="118.3" y="314.90" text-anchor="end">14000</text>
<text x="118.3" y="259.60" text-anchor="end">14200</text>
<text x="118.3" y="205.00" text-anchor="end">14400</text>
<text x="118.3" y="150.50" text-anchor="end">14600</text>
<text x="118.3" y="96.00" text-anchor="end">14800</text>
<text x="118.3" y="42.20" text-anchor="end">15000</text>
<text x="293.2" y="377.7" textLength="135.8" lengthAdjust="spacingAndGlyphs">Position [z]</text><text x="443.8" y="377.7">/</text><text x="459.2" y="377.7" textLength="43.3" lengthAdjust="spacingAndGlyphs">mm</text>
<text transform="translate(25.8,240.8) rotate(-90)">Energy / eV</text>
</g>
<text x="137.6" y="203.3" font-size="34" style="stroke:none" textLength="266.5" lengthAdjust="spacingAndGlyphs">Initial beam energy</text>
</svg>
</body></html>
